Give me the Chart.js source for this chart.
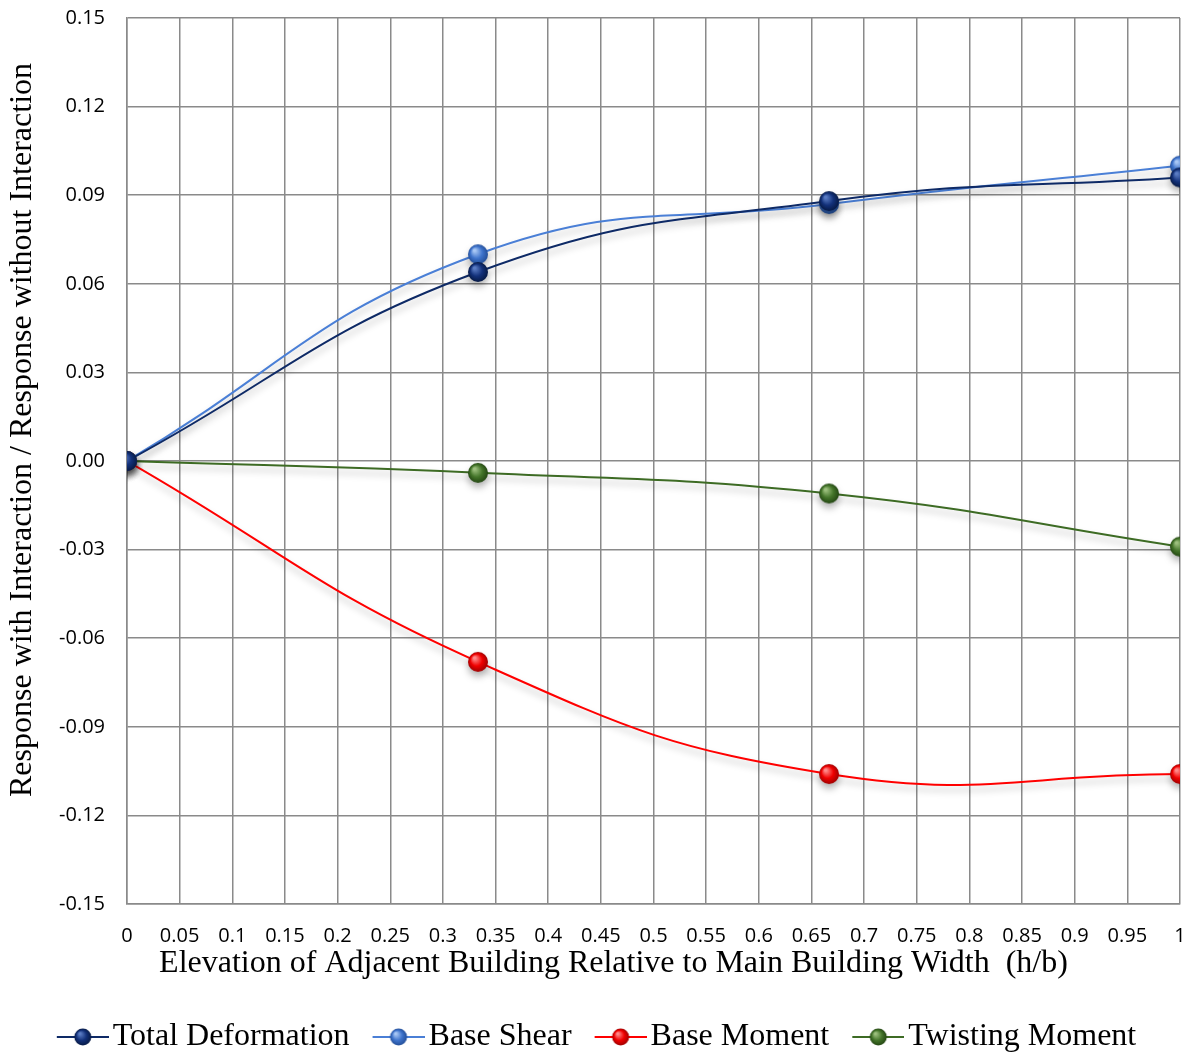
<!DOCTYPE html>
<html>
<head>
<meta charset="utf-8">
<script src="https://cdn.jsdelivr.net/npm/chart.js@4/dist/chart.umd.min.js"></script>
<style>
  html, body { margin: 0; padding: 0; background: #ffffff; }
  #wrap { width: 1196px; height: 1058px; }
</style>
</head>
<body>
<div id="wrap"><canvas id="c" width="1196" height="1058"></canvas></div>
<script>
// h/b ratios of the adjacent building
const ratios = [0, 0.3333, 0.6667, 1];

// Response with interaction / response without interaction
const totalDeformation = [0, 0.064, 0.088, 0.096];
const baseShear        = [0, 0.070, 0.087, 0.100];
const baseMoment       = [0, -0.068, -0.106, -0.106];
const twistingMoment   = [0, -0.004, -0.011, -0.029];

const seriesNames = ['Total Deformation', 'Base Shear', 'Base Moment', 'Twisting Moment'];
const xTitle = 'Elevation of Adjacent Building Relative to Main Building Width  (h/b)';
const yTitle = 'Response with Interaction / Response without Interaction';

const serif = '"Liberation Serif", "Times New Roman", serif';
const sans = '"Open Sans", sans-serif';

// line colour, sphere base colour, highlight, edge
const palette = [
  { line: '#0e2a66', base: '#13317a', hi: '#5a7cc4', edge: '#071a45' },
  { line: '#4a7fd6', base: '#3f74cc', hi: '#a9c8f5', edge: '#244f99' },
  { line: '#ff0000', base: '#f00000', hi: '#ff8a8a', edge: '#a00000' },
  { line: '#3d6b24', base: '#44752a', hi: '#9dc07e', edge: '#244713' }
];

function sphere(ctx, cx, cy, r, c) {
  const g = ctx.createRadialGradient(cx - r * 0.35, cy - r * 0.4, r * 0.1, cx, cy, r);
  g.addColorStop(0, c.hi);
  g.addColorStop(0.55, c.base);
  g.addColorStop(1, c.edge);
  ctx.beginPath();
  ctx.arc(cx, cy, r, 0, Math.PI * 2);
  ctx.fillStyle = g;
  ctx.fill();
}

function markerImage(c, r) {
  const cv = document.createElement('canvas');
  cv.width = cv.height = Math.ceil(r * 2 + 2);
  const ctx = cv.getContext('2d');
  sphere(ctx, cv.width / 2, cv.height / 2, r, c);
  return cv;
}

// legend swatch: short line with a ball, right-aligned inside a wider canvas
function legendImage(c) {
  const cv = document.createElement('canvas');
  cv.width = 77; cv.height = 22;
  const ctx = cv.getContext('2d');
  ctx.strokeStyle = c.line;
  ctx.lineWidth = 2;
  ctx.beginPath();
  ctx.moveTo(25, 11); ctx.lineTo(77, 11);
  ctx.stroke();
  sphere(ctx, 51, 11, 8.5, c);
  return cv;
}

const seriesValues = [totalDeformation, baseShear, baseMoment, twistingMoment];
const markers = palette.map(c => markerImage(c, 10));
const legendMarks = palette.map(c => legendImage(c));

const datasets = seriesValues.map((vals, i) => ({
  label: seriesNames[i],
  data: ratios.map((x, k) => ({ x: x, y: vals[k] })),
  borderColor: palette[i].line,
  backgroundColor: palette[i].base,
  borderWidth: 2,
  tension: 0.45,
  pointStyle: markers[i],
  pointRadius: 10,
  pointHoverRadius: 10,
  fill: false
}));

// soft drop shadow under lines and markers
const shadowPlugin = {
  id: 'softShadow',
  beforeDatasetsDraw(chart) {
    const ctx = chart.ctx;
    ctx.save();
    ctx.shadowColor = 'rgba(0,0,0,0.28)';
    ctx.shadowBlur = 7;
    ctx.shadowOffsetX = 0;
    ctx.shadowOffsetY = 5;
  },
  afterDatasetsDraw(chart) {
    chart.ctx.restore();
  }
};

// axis titles, placed relative to the plot area
const axisTitles = {
  id: 'axisTitles',
  afterDraw(chart) {
    const ctx = chart.ctx;
    const a = chart.chartArea;
    ctx.save();
    ctx.fillStyle = '#000000';
    ctx.font = '32px ' + serif;
    ctx.textAlign = 'center';
    ctx.textBaseline = 'middle';
    ctx.fillText(xTitle, a.left + (a.right - a.left) * 0.462, a.bottom + 60);
    ctx.translate(23, a.top + (a.bottom - a.top) * 0.465);
    ctx.rotate(-Math.PI / 2);
    ctx.fillText(yTitle, 0, 0);
    ctx.restore();
  }
};

const gridColor = '#8a8a8a';

new Chart(document.getElementById('c'), {
  type: 'line',
  data: { datasets: datasets },
  plugins: [shadowPlugin, axisTitles],
  options: {
    responsive: false,
    animation: false,
    layout: { padding: { top: 18, right: 16, left: 0, bottom: -5 } },
    plugins: {
      tooltip: { enabled: false },
      legend: {
        position: 'bottom',
        labels: {
          usePointStyle: true,
          pointStyleWidth: 53,
          boxHeight: 22,
          padding: 10,
          color: '#000000',
          font: { family: serif, size: 32 },
          generateLabels(chart) {
            return chart.data.datasets.map((ds, i) => ({
              text: ds.label,
              pointStyle: legendMarks[i],
              fillStyle: ds.backgroundColor,
              strokeStyle: ds.borderColor,
              lineWidth: 0,
              hidden: false,
              datasetIndex: i,
              fontColor: '#000000'
            }));
          }
        }
      }
    },
    scales: {
      x: {
        type: 'linear',
        min: 0,
        max: 1,
        afterFit(scale) {
          scale.height = 107;
          scale.paddingLeft = 0;
          scale.paddingRight = 0;
        },
        grid: { color: gridColor, lineWidth: 1.5, drawTicks: false },
        border: { color: gridColor, width: 1.5 },
        ticks: {
          stepSize: 0.05,
          autoSkip: false,
          maxRotation: 0,
          padding: 20,
          color: '#000000',
          font: { family: sans, size: 20 },
          callback: v => String(Number(v.toFixed(2)))
        }
      },
      y: {
        min: -0.15,
        max: 0.15,
        afterFit(scale) {
          scale.width = 127;
          scale.paddingTop = 0;
          scale.paddingBottom = 0;
        },
        grid: { color: gridColor, lineWidth: 1.5, drawTicks: false },
        border: { color: gridColor, width: 1.5 },
        ticks: {
          stepSize: 0.03,
          padding: 22,
          color: '#000000',
          font: { family: sans, size: 20 },
          callback: v => (Math.abs(v) < 1e-9 ? '0.00' : v.toFixed(2))
        }
      }
    }
  }
});
</script>
</body>
</html>
